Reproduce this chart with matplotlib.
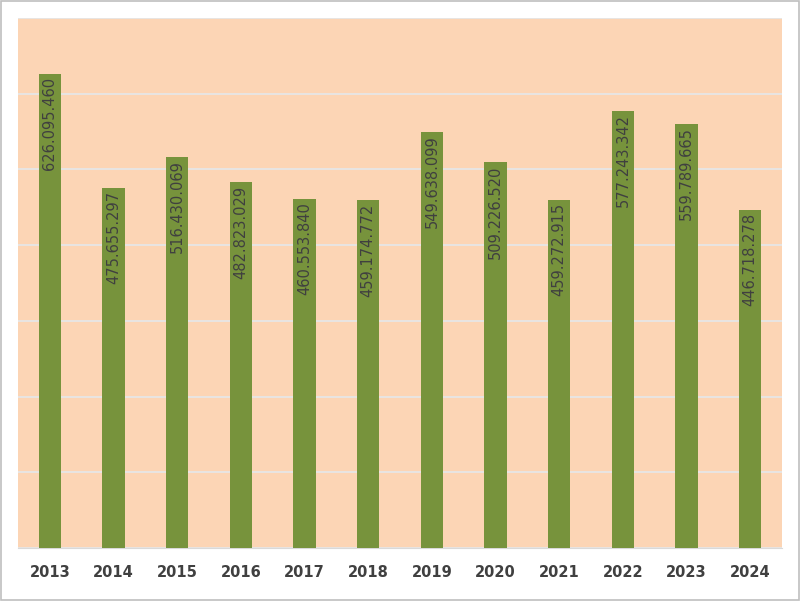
import matplotlib
matplotlib.use("Agg")
import matplotlib.pyplot as plt
from matplotlib.patches import Rectangle

years = ["2013","2014","2015","2016","2017","2018","2019","2020","2021","2022","2023","2024"]
values = [626095460, 475655297, 516430069, 482823029, 460553840, 459174772,
          549638099, 509226520, 459272915, 577243342, 559789665, 446718278]
labels = ["626.095.460","475.655.297","516.430.069","482.823.029","460.553.840","459.174.772",
          "549.638.099","509.226.520","459.272.915","577.243.342","559.789.665","446.718.278"]

fig = plt.figure(figsize=(8, 6.01), dpi=100)
fig.patches.append(Rectangle((0.001, 0.001), 0.998, 0.998, transform=fig.transFigure,
                             fill=False, edgecolor="#BFBFBF", linewidth=1.2))
ax = fig.add_axes([18/800, 53/601, 764/800, 530/601])
ax.set_facecolor("#FCD5B5")
x = range(len(years))
ax.bar(x, values, width=0.35, color="#77933C", zorder=3)
ax.set_xlim(-0.5, len(years) - 0.5)
ax.set_ylim(0, 700e6)
ax.set_yticks([i * 100e6 for i in range(8)])
ax.yaxis.grid(True, color="#E6E6E6", linewidth=1.3, zorder=0)
ax.tick_params(axis="y", length=0, labelleft=False)
ax.tick_params(axis="x", length=0, pad=12)
ax.set_xticks(list(x))
ax.set_xticklabels(years, fontsize=10.5, fontweight="bold", color="#404040")
for s in ["top", "right", "left"]:
    ax.spines[s].set_visible(False)
ax.spines["bottom"].set_color("#D9D9D9")
for xi, v, lab in zip(x, values, labels):
    ax.text(xi, v - 4e6, lab, rotation=90, ha="center", va="top",
            fontsize=10.5, color="#404040", zorder=4)
fig.savefig("out.png", dpi=100)
